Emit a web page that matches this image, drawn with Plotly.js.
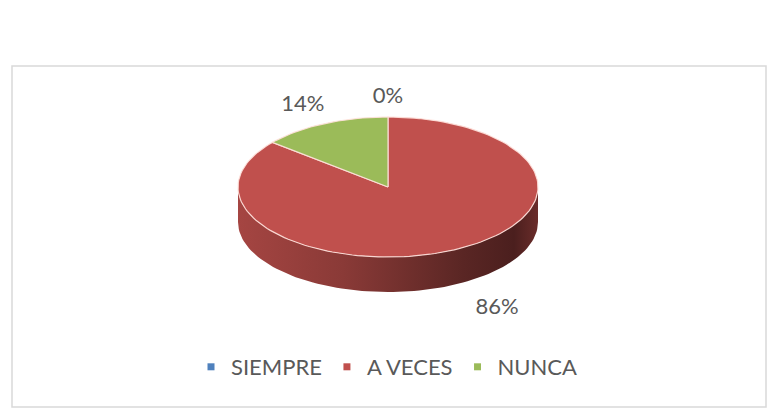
<!DOCTYPE html>
<html>
<head>
<meta charset="utf-8">
<script src="https://cdn.plot.ly/plotly-3.0.1.min.js"></script>
<style>html,body{margin:0;padding:0;background:#fff;}#chart{width:774px;height:411px;}</style>
</head>
<body>
<div id="chart"></div>
<script>
// ---- data ----
var categories = ["SIEMPRE", "A VECES", "NUNCA"];
var values = [0, 86, 14];
var colors = ["#4F81BD", "#C0504D", "#9BBB59"];

// ---- layout constants (pixel geometry of the 3D pie) ----
var W = 774, H = 411;
var cx = 388, cy = 187, rx = 150, ry = 70, depth = 35;
var FONT = "Lato, 'Open Sans', sans-serif";

function rad(d){ return d * Math.PI / 180; }
function shade(hex, f){
  var n = parseInt(hex.slice(1), 16);
  var r = Math.round(((n >> 16) & 255) * f), g = Math.round(((n >> 8) & 255) * f), b = Math.round((n & 255) * f);
  return "rgb(" + r + "," + g + "," + b + ")";
}

var total = values.reduce(function(a, b){ return a + b; }, 0);
var traces = [];
var walls = [], tops = [];
var labX = [], labY = [], labT = [];
var cum = 0;
values.forEach(function(v, i){
  var a0 = 90 - 360 * cum / total;
  var a1 = a0 - 360 * v / total;
  cum += v;
  var mid = (a0 + a1) / 2;
  var s = Math.sin(rad(mid)), c = Math.cos(rad(mid));
  // labels placed outside the pie (front labels pushed out past the side wall)
  var front = s < 0;
  labX.push(cx + (rx + (front ? 106 : 50)) * c);
  labY.push(cy - (ry + 20) * s + (front ? depth + 5 : 0));
  labT.push(Math.round(v / total * 100) + "%");
  if (v <= 0) return;
  // top face slice
  var xs = [cx], ys = [cy];
  var n = Math.max(2, Math.ceil((a0 - a1) / 2));
  for (var k = 0; k <= n; k++) {
    var t = a0 - (a0 - a1) * k / n;
    xs.push(cx + rx * Math.cos(rad(t)));
    ys.push(cy - ry * Math.sin(rad(t)));
  }
  xs.push(cx); ys.push(cy);
  tops.push({
    type: "scatter", mode: "lines", x: xs, y: ys, fill: "toself",
    fillcolor: colors[i], line: {color: "rgba(255,225,220,0.9)", width: 1.2},
    hoverinfo: "skip", showlegend: false
  });
  // front side wall (visible where sin < 0)
  for (var m = -3; m <= 2; m++) {
    var lo = Math.max(a1, 180 + 360 * m), hi = Math.min(a0, 360 + 360 * m);
    if (hi <= lo) continue;
    var wx = [], wy = [];
    var nn = Math.max(2, Math.ceil((hi - lo) / 2));
    for (var j = 0; j <= nn; j++) {
      var tt = lo + (hi - lo) * j / nn;
      wx.push(cx + rx * Math.cos(rad(tt)));
      wy.push(cy - ry * Math.sin(rad(tt)));
    }
    for (var j2 = nn; j2 >= 0; j2--) {
      var t2 = lo + (hi - lo) * j2 / nn;
      wx.push(cx + rx * Math.cos(rad(t2)));
      wy.push(cy - ry * Math.sin(rad(t2)) + depth);
    }
    wx.push(wx[0]); wy.push(wy[0]);
    walls.push({
      type: "scatter", mode: "lines", x: wx, y: wy, fill: "toself",
      fillgradient: {type: "horizontal", colorscale: [
        [0, shade(colors[i], 0.86)], [0.35, shade(colors[i], 0.72)],
        [0.75, shade(colors[i], 0.47)], [0.92, shade(colors[i], 0.39)], [1, shade(colors[i], 0.55)]
      ]},
      line: {width: 0, color: "rgba(0,0,0,0)"},
      hoverinfo: "skip", showlegend: false
    });
  }
});
traces = traces.concat(walls, tops);

// data labels
traces.push({
  type: "scatter", mode: "text", x: labX, y: labY, text: labT,
  textposition: "middle center",
  textfont: {family: FONT, size: 22, color: "#595959"},
  hoverinfo: "skip", showlegend: false
});

// legend entries
categories.forEach(function(c, i){
  traces.push({
    type: "scatter", mode: "markers", x: [null], y: [null], name: c,
    marker: {symbol: "square", size: 7, color: colors[i]},
    hoverinfo: "skip", showlegend: true
  });
});

var layout = {
  width: W, height: H,
  margin: {l: 0, r: 0, t: 0, b: 0},
  paper_bgcolor: "#ffffff", plot_bgcolor: "#ffffff",
  xaxis: {range: [0, W], visible: false, fixedrange: true},
  yaxis: {range: [H, 0], visible: false, fixedrange: true},
  showlegend: true,
  legend: {
    orientation: "h", x: 0.5, xanchor: "center", y: 1 - 367 / H, yanchor: "middle",
    font: {family: FONT, size: 22, color: "#595959"},
    itemgap: 6, bgcolor: "rgba(0,0,0,0)"
  },
  shapes: [{
    type: "rect", xref: "x", yref: "y", x0: 12, y0: 66, x1: 766, y1: 407,
    line: {color: "#d9d9d9", width: 1.5}, layer: "below"
  }]
};

Plotly.newPlot("chart", traces, layout, {displayModeBar: false, staticPlot: true});
</script>
</body>
</html>
